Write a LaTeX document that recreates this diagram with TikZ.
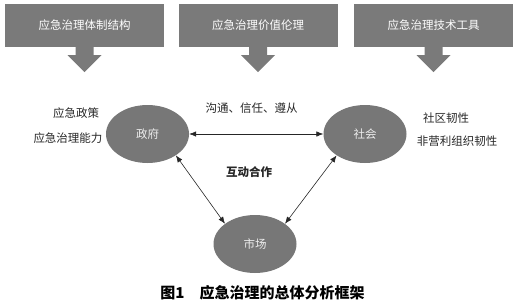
\documentclass[tikz,border=0pt]{standalone}
\usepackage{fontspec}
\setmainfont{Noto Sans CJK SC}
\usetikzlibrary{shapes.geometric,arrows.meta}
\definecolor{boxgray}{HTML}{7A7A7A}
\definecolor{ellgray}{HTML}{777777}
\definecolor{lighttxt}{HTML}{EDEDED}
\begin{document}
\begin{tikzpicture}[x=1pt,y=-1pt,
  topbox/.style={fill=boxgray,minimum width=159pt,minimum height=43pt,inner sep=0pt,
    text=white,font=\fontsize{11.5}{14}\selectfont},
  downarr/.style={fill=boxgray},
  actor/.style={ellipse,fill=ellgray,minimum width=83pt,minimum height=58pt,inner sep=0pt,
    text=lighttxt,font=\fontsize{11.5}{14}\selectfont},
  lbl/.style={font=\fontsize{11.5}{14}\selectfont,text=black!85,inner sep=0pt},
  link/.style={line width=0.6pt,black!85,{Latex[length=7pt,width=5.5pt]}-{Latex[length=7pt,width=5.5pt]}}
]
\path[use as bounding box] (0,0) rectangle (517,306);

\node[topbox] (b1) at (84.5,25.5) {应急治理体制结构};
\node[topbox] (b2) at (258,25.5) {应急治理价值伦理};
\node[topbox] (b3) at (433.5,25.5) {应急治理技术工具};

\foreach \b in {b1,b2,b3}{
  \fill[downarr] ([xshift=-9pt,yshift=0.5pt]\b.south) -- ([xshift=-9pt,yshift=-8pt]\b.south)
    -- ([xshift=-17pt,yshift=-8pt]\b.south) -- ([yshift=-25pt]\b.south)
    -- ([xshift=17pt,yshift=-8pt]\b.south) -- ([xshift=9pt,yshift=-8pt]\b.south)
    -- ([xshift=9pt,yshift=0.5pt]\b.south) -- cycle;
}

\node[actor] (gov) at (147.5,134) {政府};
\node[actor] (soc) at (365,134) {社会};
\node[actor] (mkt) at (255,244) {市场};

\draw[link] (gov.east) -- (soc.west);
\draw[link] (gov.-37) -- (mkt.146);
\draw[link] (soc.-143) -- (mkt.34);

\node[lbl] (t1) at (76,113) {应急政策};
\node[lbl] (t2) at (68,138) {应急治理能力};
\node[lbl] (t3) at (251.5,108) {沟通、信任、遵从};
\node[lbl] (t4) at (446,118) {社区韧性};
\node[lbl] (t5) at (457,141) {非营利组织韧性};
\node[lbl,font=\fontsize{11.5}{14}\selectfont\bfseries] (t6) at (249,172) {互动合作};
\node[lbl,font=\fontsize{15}{18}\selectfont\bfseries,text=black] (cap) at (262.5,293) {图1\quad 应急治理的总体分析框架};
\end{tikzpicture}
\end{document}
